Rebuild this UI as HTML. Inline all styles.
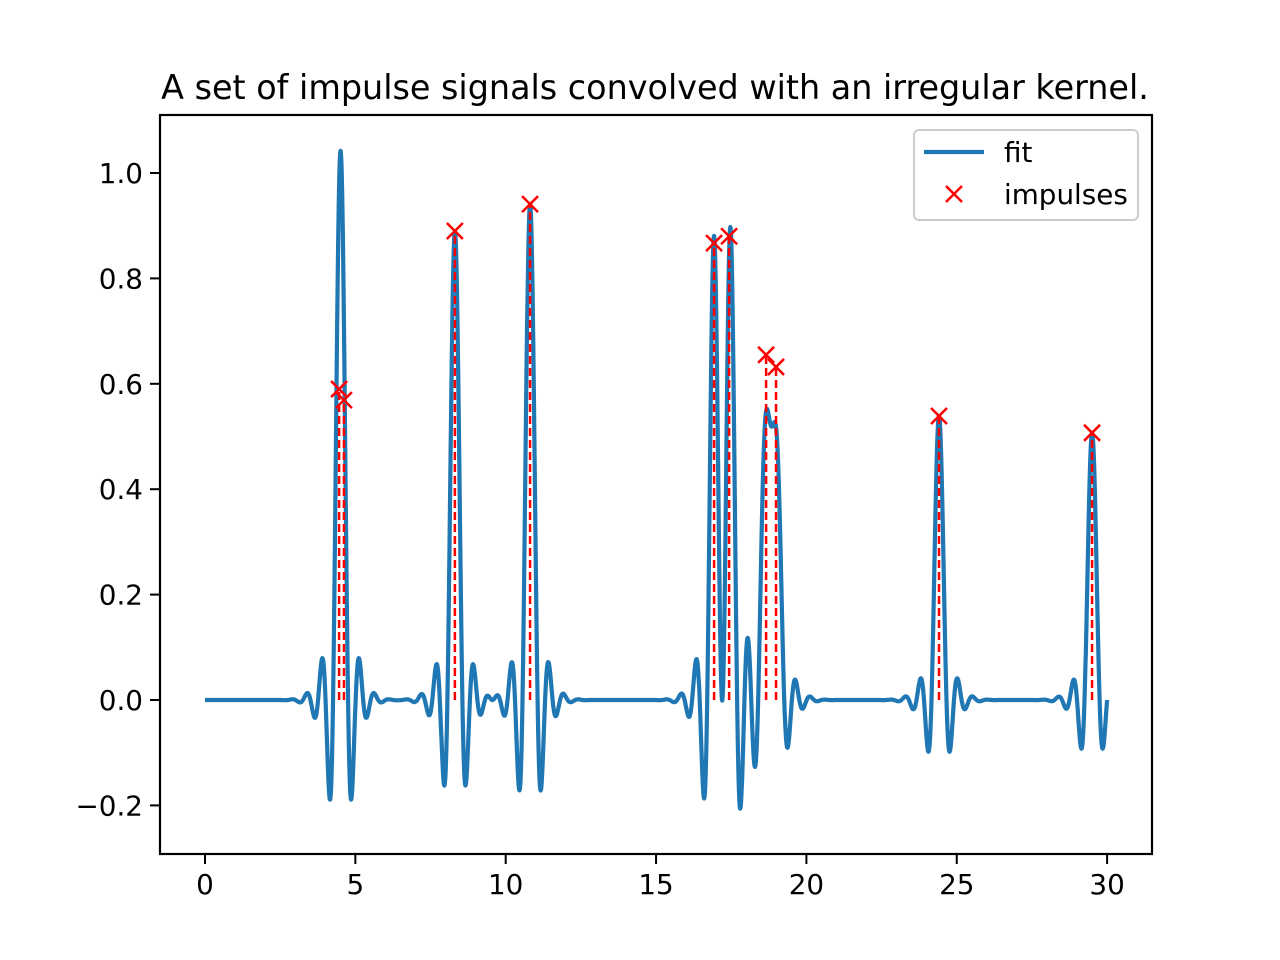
<!DOCTYPE html>
<html><head><meta charset="utf-8"><style>
html,body{margin:0;padding:0;background:#fff;}
svg{display:block;font-family:"DejaVu Sans","Liberation Sans",sans-serif;}
</style></head><body>
<svg id="s" width="1280" height="960" xmlns="http://www.w3.org/2000/svg">
<rect width="1280" height="960" fill="#fff"/>
<text x="655" y="99" font-size="33.4" text-anchor="middle">A set of impulse signals convolved with an irregular kernel.</text>
<g id="plot"></g>
<rect x="160" y="115" width="992" height="739" fill="none" stroke="#000" stroke-width="2.2"/>
<g font-size="27.8" id="ticks"></g>
<g>
<rect x="914" y="130" width="224" height="90" rx="5" fill="#fff" fill-opacity="0.8" stroke="#ccc" stroke-width="2"/>
<line x1="924" y1="152" x2="984" y2="152" stroke="#1f77b4" stroke-width="4.2"/>
<text x="1004" y="162" font-size="27.8">fit</text>
<path d="M946 186 L962 202 M962 186 L946 202" stroke="red" stroke-width="2.5"/>
<text x="1004" y="204" font-size="27.8">impulses</text>
</g>
</svg>
<script>
var X=function(v){return 205+v*30.07;},Y=function(v){return 700-v*527;};
var imp=[[4.46,0.59],[4.62,0.569],[8.31,0.89],[10.81,0.941],[16.93,0.867],[17.43,0.88],[18.66,0.655],[18.99,0.632],[24.41,0.539],[29.5,0.507]];
var fitp=[[4.5,0.59],[4.52,0.455],[8.31,0.89],[10.81,0.941],[16.95,0.867],[17.45,0.88],[18.66,0.655],[18.99,0.632],[24.41,0.539],[29.5,0.507]];
function k(t){var x=t/0.25;var s=Math.abs(x)<1e-9?1:Math.sin(Math.PI*x)/(Math.PI*x);return s*Math.exp(-t*t/(2*0.6*0.6));}
var d="";for(var i=0;i<=3000;i++){var t=i*0.01,v=0;fitp.forEach(function(p){v+=p[1]*k(t-p[0]);});if(i==3000)v=0;d+=(i?"L":"M")+X(t).toFixed(1)+" "+Y(v).toFixed(1);}
var g=document.getElementById("plot"),h="";
h+='<path d="'+d+'" fill="none" stroke="#1f77b4" stroke-width="4.2" stroke-linejoin="round"/>';
imp.forEach(function(p){h+='<line x1="'+X(p[0])+'" y1="700" x2="'+X(p[0])+'" y2="'+Y(p[1])+'" stroke="red" stroke-width="2.5" stroke-dasharray="8,4"/>';});
imp.forEach(function(p){var x=X(p[0]),y=Y(p[1]);h+='<path d="M'+(x-8)+' '+(y-8)+' L'+(x+8)+' '+(y+8)+' M'+(x+8)+' '+(y-8)+' L'+(x-8)+' '+(y+8)+'" stroke="red" stroke-width="2.5"/>';});
g.innerHTML=h;
var tk="";for(var v=0;v<=30;v+=5){var x=X(v);tk+='<line x1="'+x+'" y1="854" x2="'+x+'" y2="864" stroke="#000" stroke-width="2"/><text x="'+x+'" y="894" text-anchor="middle">'+v+'</text>';}
[-0.2,0,0.2,0.4,0.6,0.8,1.0].forEach(function(v){var y=Y(v);tk+='<line x1="150" y1="'+y+'" x2="160" y2="'+y+'" stroke="#000" stroke-width="2"/><text x="143" y="'+(y+10)+'" text-anchor="end">'+(v<0?"\u22120.2":v.toFixed(1))+'</text>';});
document.getElementById("ticks").innerHTML=tk;
</script>
</body></html>
